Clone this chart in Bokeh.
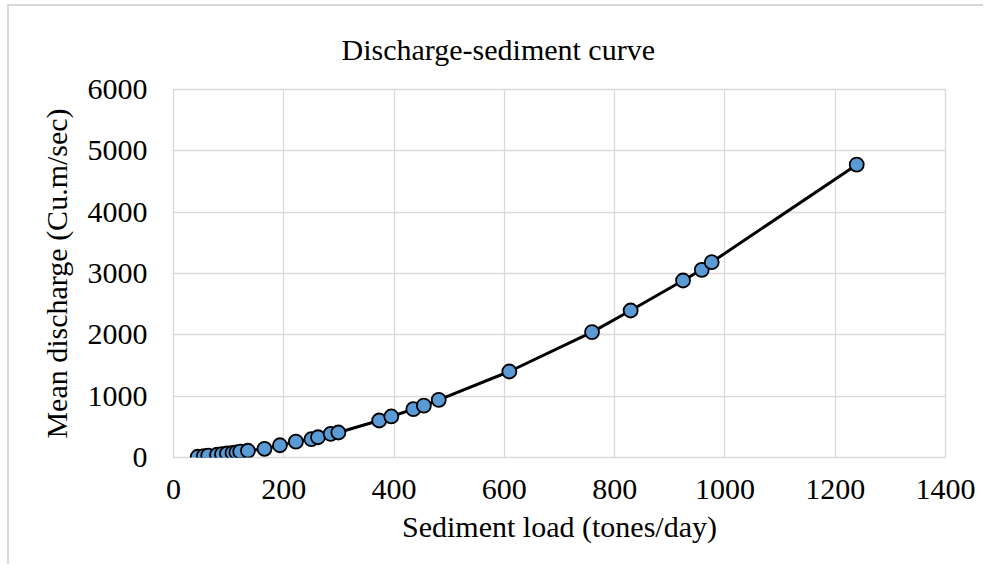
from bokeh.plotting import figure
from bokeh.models import Range1d, FixedTicker, ColumnDataSource
from bokeh.embed import file_html
from bokeh.resources import INLINE

# Data
sediment_load = [44, 55, 63, 79, 88, 97, 107, 114, 121, 135, 165, 193, 222, 250,
                 262, 285, 299, 373, 395, 435, 454, 481, 609, 759, 829, 924, 958,
                 976, 1239]
mean_discharge = [12, 22, 30, 45, 55, 65, 77, 85, 95, 110, 142, 200, 258, 298,
                  330, 386, 408, 603, 669, 788, 845, 940, 1402, 2045, 2397, 2886,
                  3060, 3184, 4775]
x_ticks = [0, 200, 400, 600, 800, 1000, 1200, 1400]
y_ticks = [0, 1000, 2000, 3000, 4000, 5000, 6000]

FONT = "Liberation Serif"
GRID = "#d9d9d9"

src = ColumnDataSource(dict(x=sediment_load, y=mean_discharge))

p = figure(width=976, height=560, output_backend="svg", toolbar_location=None,
           x_range=Range1d(0, 1400), y_range=Range1d(0, 6000),
           min_border_left=164, min_border_right=40, min_border_top=83,
           min_border_bottom=109,
           styles={"margin-left": "7px", "margin-top": "4px",
                   "border-left": "2px solid #d9d9d9",
                   "border-top": "2px solid #d9d9d9"})

p.line("x", "y", source=src, line_color="black", line_width=3)
p.scatter("x", "y", source=src, size=14, fill_color="#5B9BD5",
          line_color="black", line_width=1.8)

p.title.text = "Discharge-sediment curve"
p.title.text_font = FONT
p.title.text_font_size = "30px"
p.title.text_font_style = "normal"
p.title.text_color = "black"
p.title.align = "left"
p.title.offset = 168
p.title.standoff = 47

p.xaxis.ticker = FixedTicker(ticks=x_ticks)
p.yaxis.ticker = FixedTicker(ticks=y_ticks)
for ax in (p.xaxis[0], p.yaxis[0]):
    ax.axis_line_color = None
    ax.major_tick_line_color = None
    ax.minor_tick_line_color = None
    ax.major_tick_out = 0
    ax.major_tick_in = 0
    ax.major_label_text_font = FONT
    ax.major_label_text_font_size = "30px"
    ax.major_label_text_color = "black"
    ax.axis_label_text_font = FONT
    ax.axis_label_text_font_size = "30px"
    ax.axis_label_text_font_style = "normal"
    ax.axis_label_text_color = "black"

p.xaxis.axis_label = "Sediment load (tones/day)"
p.yaxis.axis_label = "Mean discharge (Cu.m/sec)"
p.xaxis.major_label_standoff = 22
p.xaxis.axis_label_standoff = 8
p.yaxis.major_label_standoff = 26
p.yaxis.axis_label_standoff = 12

p.xgrid.grid_line_color = GRID
p.ygrid.grid_line_color = GRID
p.grid.grid_line_width = 1.3
p.outline_line_color = GRID
p.outline_line_width = 1.3
p.outline_line_alpha = 1.0

open("out.html", "w").write(file_html(p, INLINE))
